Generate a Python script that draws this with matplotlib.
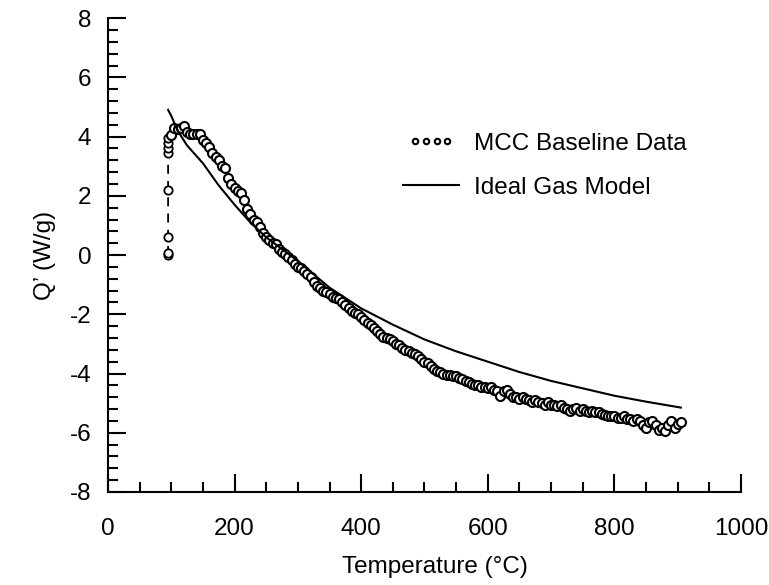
import matplotlib
matplotlib.use('Agg')
import matplotlib.pyplot as plt
from matplotlib.legend_handler import HandlerLine2D
import numpy as np

plt.rcParams['font.family'] = ['Liberation Sans', 'DejaVu Sans']
plt.rcParams['axes.unicode_minus'] = False

# initial ramp of the MCC baseline (dashed, at ~95 C)
ramp_t = [95, 95, 95, 95, 95, 95, 95, 95, 100]
ramp_q = [0.0, 0.06, 0.6, 2.2, 3.45, 3.6, 3.8, 3.95, 4.05]

# MCC baseline data
mcc_t = [100, 105, 110, 115, 120, 125, 130, 135, 140, 145,
         150, 155, 160, 165, 170, 175, 180, 185, 190, 195,
         200, 205, 210, 215, 220, 225, 230, 235, 240, 245,
         250, 255, 260, 265, 270, 275, 280, 285, 290, 295,
         300, 305, 310, 315, 320, 325, 330, 335, 340, 345,
         350, 355, 360, 365, 370, 375, 380, 385, 390, 395,
         400, 405, 410, 415, 420, 425, 430, 435, 440, 445,
         450, 455, 460, 465, 470, 475, 480, 485, 490, 495,
         500, 505, 510, 515, 520, 525, 530, 535, 540, 545,
         550, 555, 560, 565, 570, 575, 580, 585, 590, 595,
         600, 605, 610, 615, 620, 625, 630, 635, 640, 645,
         650, 655, 660, 665, 670, 675, 680, 685, 690, 695,
         700, 705, 710, 715, 720, 725, 730, 735, 740, 745,
         750, 755, 760, 765, 770, 775, 780, 785, 790, 795,
         800, 805, 810, 815, 820, 825, 830, 835, 840, 845,
         850, 855, 860, 865, 870, 875, 880, 885, 890, 895,
         900, 905]
mcc_q = [4.05, 4.3, 4.25, 4.3, 4.35, 4.15, 4.1, 4.1, 4.1, 4.1,
         3.9, 3.8, 3.65, 3.45, 3.3, 3.2, 3.0, 2.95, 2.6, 2.4,
         2.25, 2.15, 2.1, 1.85, 1.55, 1.4, 1.2, 1.1, 0.95, 0.75,
         0.6, 0.5, 0.42, 0.38, 0.2, 0.1, 0.05, -0.05, -0.15, -0.3,
         -0.4, -0.45, -0.55, -0.65, -0.75, -0.9, -1.05, -1.1, -1.2, -1.25,
         -1.3, -1.4, -1.45, -1.5, -1.6, -1.7, -1.8, -1.9, -1.95, -2.0,
         -2.1, -2.2, -2.3, -2.35, -2.45, -2.55, -2.65, -2.75, -2.8, -2.85,
         -2.9, -3.0, -3.05, -3.15, -3.2, -3.25, -3.3, -3.35, -3.4, -3.5,
         -3.6, -3.65, -3.75, -3.85, -3.9, -3.95, -4.0, -4.05, -4.05, -4.1,
         -4.1, -4.15, -4.2, -4.25, -4.3, -4.35, -4.4, -4.4, -4.45, -4.45,
         -4.5, -4.45, -4.55, -4.6, -4.75, -4.6, -4.55, -4.7, -4.8, -4.8,
         -4.85, -4.8, -4.85, -4.9, -4.95, -4.9, -4.95, -5.0, -5.05, -4.95,
         -5.05, -5.05, -5.1, -5.05, -5.15, -5.2, -5.25, -5.2, -5.15, -5.25,
         -5.2, -5.25, -5.3, -5.25, -5.3, -5.3, -5.35, -5.4, -5.45, -5.45,
         -5.45, -5.5, -5.5, -5.45, -5.55, -5.55, -5.6, -5.55, -5.6, -5.75,
         -5.85, -5.65, -5.6, -5.75, -5.9, -5.85, -5.95, -5.75, -5.6, -5.85,
         -5.7, -5.65]

# ideal gas model
gas_t = [95, 100, 110, 125, 150, 175, 200, 225, 250, 275, 300,
         350, 400, 450, 500, 550, 600, 650, 700, 750, 800, 850, 905]
gas_q = [4.9, 4.7, 4.2, 3.7, 3.1, 2.35, 1.7, 1.1, 0.6, 0.2, -0.2,
         -1.1, -1.8, -2.35, -2.85, -3.25, -3.6, -3.95, -4.25, -4.5, -4.75, -4.95, -5.15]

fig = plt.figure(figsize=(7.69, 5.85), dpi=100)
ax = fig.add_axes([0.1404, 0.159, 0.8232, 0.81])

ax.plot(ramp_t, ramp_q, ls=(0, (5, 4)), color='black', lw=1.3,
        marker='o', ms=6, mfc='white', mec='black', mew=1.3)
mcc_line, = ax.plot(mcc_t, mcc_q, ls='none', marker='o', ms=6.5, mfc='white',
                    mec='black', mew=1.5, label='MCC Baseline Data')
ax.plot(gas_t, gas_q, color='black', lw=1.5, label='Ideal Gas Model')

ax.set_xlim(0, 1000)
ax.set_ylim(-8, 8)
ax.set_xticks(np.arange(0, 1001, 200))
ax.set_xticks(np.arange(0, 1001, 50), minor=True)
ax.set_yticks(np.arange(-8, 9, 2))
ax.set_yticks(np.arange(-8, 8.01, 0.4), minor=True)

for s in ['top', 'right']:
    ax.spines[s].set_visible(False)
for s in ['left', 'bottom']:
    ax.spines[s].set_linewidth(1.5)

ax.tick_params(which='major', direction='in', length=13, width=1.5, labelsize=17.5)
ax.tick_params(which='minor', direction='in', length=7, width=1.5)
ax.tick_params(axis='x', which='major', pad=19)
ax.tick_params(axis='y', which='major', pad=12)

ax.set_xlabel('Temperature (°C)', fontsize=17.5, labelpad=12)
ax.xaxis.set_label_coords(0.517, -0.135)
ax.set_ylabel('Q’ (W/g)', fontsize=17.5, labelpad=10)

leg = ax.legend(loc='upper left', bbox_to_anchor=(0.432, 0.804), frameon=False,
                fontsize=17.5, markerscale=0.6,
                handler_map={mcc_line: HandlerLine2D(numpoints=4, marker_pad=0.5)},
                handlelength=2.3, handletextpad=0.6, labelspacing=0.9)

fig.savefig('out.png', dpi=100)
